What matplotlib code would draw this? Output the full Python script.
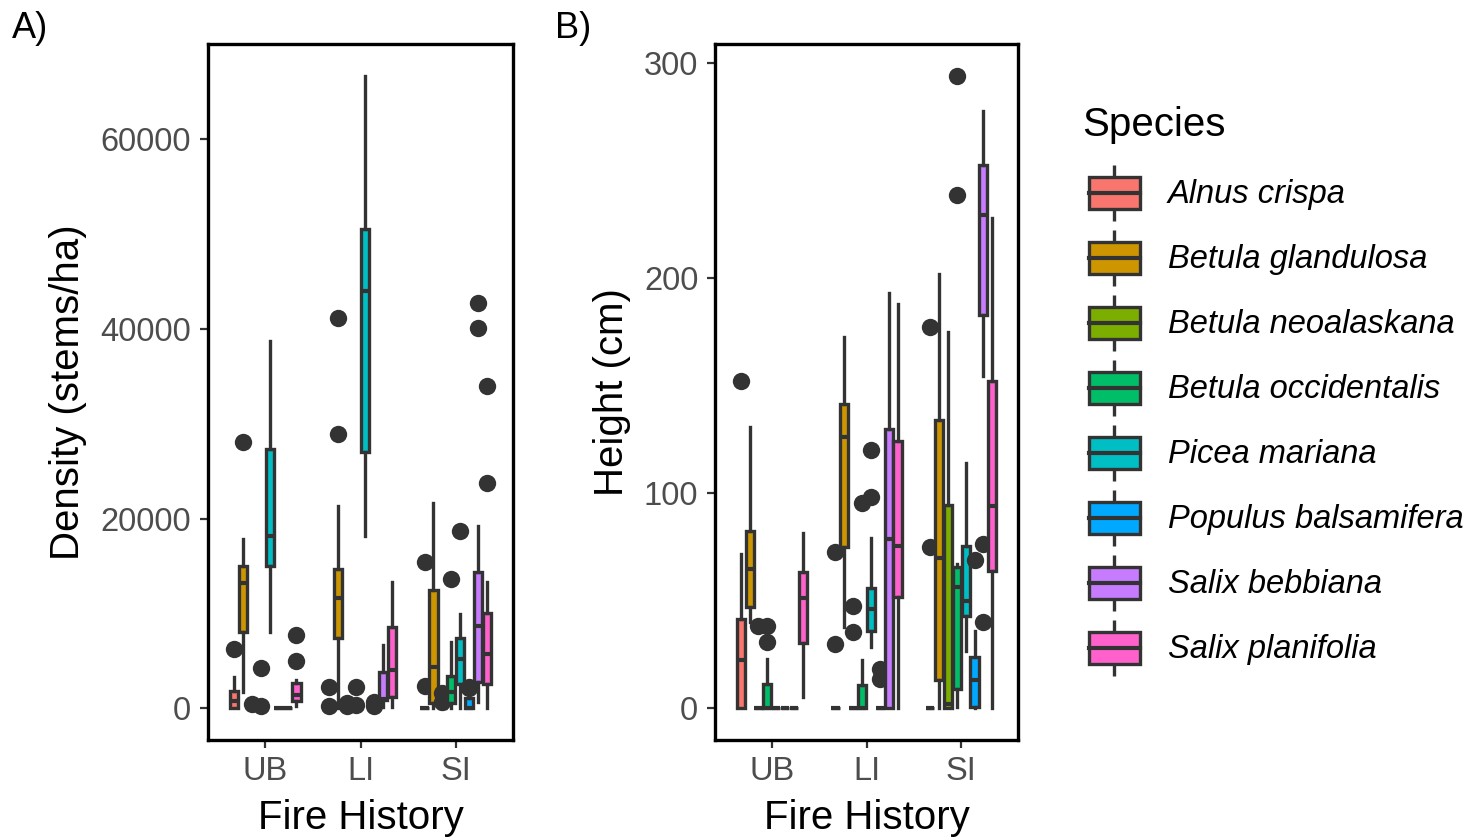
import numpy as np
import matplotlib
matplotlib.use("Agg")
import matplotlib.pyplot as plt
from matplotlib.patches import Rectangle

plt.rcParams['font.family'] = ['Liberation Sans', 'DejaVu Sans']

species = ["Alnus crispa", "Betula glandulosa", "Betula neoalaskana",
           "Betula occidentalis", "Picea mariana", "Populus balsamifera",
           "Salix bebbiana", "Salix planifolia"]
colors = ["#F8766D", "#CD9600", "#7CAE00", "#00BE67",
          "#00BFC4", "#00A9FF", "#C77CFF", "#FF61CC"]
fire_groups = ["UB", "LI", "SI"]

# box stats, rows = species, columns = UB, LI, SI
# A) density (stems/ha)
dens_whislo = [[0, 0, 0], [1720, 0, 0], [0, 0, 0], [0, 0, 0],
               [8030, 18150, 0], [0, 0, 0], [0, 140, 660], [300, 100, 0]]
dens_q1 = [[0, 0, 0], [8030, 7430, 560], [0, 0, 0], [0, 0, 560],
           [14950, 27010, 2600], [0, 0, 0], [0, 840, 2770], [770, 1190, 2600]]
dens_med = [[770, 0, 0], [13230, 11630, 4350], [0, 0, 0], [0, 0, 1720],
            [18210, 43930, 5200], [0, 0, 0], [0, 950, 8630], [1370, 4070, 5760]]
dens_q3 = [[1820, 0, 0], [15050, 14690, 12420], [0, 0, 0], [0, 0, 3370],
           [27330, 50480, 7400], [0, 0, 1050], [0, 3820, 14350], [2660, 8560, 10040]]
dens_whishi = [[3300, 0, 0], [17860, 21330, 21600], [0, 0, 0], [0, 0, 6980],
               [38660, 66660, 9970], [0, 0, 1500], [0, 6630, 19260], [2950, 13290, 13300]]
dens_fliers = [
    [[6280], [2200, 300], [15400, 2400]],
    [[28030], [41090, 28870], []],
    [[500], [300, 600], [1600, 700]],
    [[4200, 250], [2200, 400], [13650]],
    [[], [], [18650]],
    [[], [700, 300], [2100, 2300]],
    [[], [], [42740, 40100]],
    [[7680, 4950], [], [34000, 23720]],
]

# B) height (cm)
ht_whislo = [[0, 0, 0], [40.0, 38.0, 0], [0, 0, 0], [0, 0, 0.6],
             [0, 28.4, 26.9], [0, 0, 0], [0, 0, 154.4], [5.2, 0, 0]]
ht_q1 = [[0, 0, 0], [47.0, 74.8, 13.0], [0, 0, 0], [0, 0, 9.1],
         [0, 36.2, 43.1], [0, 0, 0.6], [0, 0, 183.0], [30.3, 51.6, 64.0]]
ht_med = [[22.3, 0, 0], [64.8, 126.1, 69.9], [0, 0, 2.0], [0, 0, 56.2],
          [0, 46.2, 50.1], [0, 0, 13.0], [0, 78.7, 229.6], [51.3, 75.6, 94.1]]
ht_q3 = [[41.6, 0, 0], [82.5, 141.5, 134.3], [0, 0, 94.6], [11.4, 10.7, 65.5],
         [0, 56.0, 75.6], [0, 0, 24.1], [0, 129.7, 252.5], [63.2, 124.2, 152.1]]
ht_whishi = [[72.0, 0, 0], [130.7, 172.5, 202.0], [0, 0, 174.9], [23.0, 22.6, 67.1],
             [0, 79.4, 114.2], [0, 0, 36.2], [0, 193.0, 277.7], [81.7, 187.9, 227.8]]
ht_fliers = [
    [[152.4], [72.5, 30.0], [177.1, 74.8]],
    [[], [], []],
    [[38.5], [47.7, 35.7], []],
    [[38.5, 30.7], [95.6], [294.2, 238.6]],
    [[], [119.9, 98.3], []],
    [[], [18.4, 13.8], [68.9]],
    [[], [], [76.6, 40.0]],
    [[], [], []],
]

W, H = 1477, 838
EDGE = "#333333"
LW = 2.4
MED_LW = 3.0


def draw_panel(ax, whislo, q1, med, q3, whishi, fliers, yticks, ylabel, ylab_x):
    n = len(species)
    slot = 0.75 / n
    allv = []
    for k in range(n):
        for g in range(len(fire_groups)):
            st = dict(whislo=whislo[k][g], q1=q1[k][g], med=med[k][g],
                      q3=q3[k][g], whishi=whishi[k][g], fliers=fliers[k][g])
            allv += [st['whislo'], st['whishi']] + list(st['fliers'])
            pos = g + 1 + (k - (n - 1) / 2) * slot
            ax.bxp([st], positions=[pos], widths=slot * 0.92, patch_artist=True,
                   showcaps=False, manage_ticks=False,
                   boxprops=dict(facecolor=colors[k], edgecolor=EDGE, linewidth=LW),
                   whiskerprops=dict(color=EDGE, linewidth=LW),
                   medianprops=dict(color=EDGE, linewidth=MED_LW),
                   flierprops=dict(marker='o', markerfacecolor=EDGE,
                                   markeredgecolor='none', markersize=12.5))
    lo, hi = min(allv), max(allv)
    pad = (hi - lo) * 0.05
    ax.set_ylim(lo - pad, hi + pad)
    ax.set_xlim(0.4, 3.6)
    ax.set_xticks([1, 2, 3])
    ax.set_xticklabels(fire_groups)
    ax.set_yticks(yticks)
    ax.set_yticklabels([str(v) for v in yticks])
    ax.tick_params(axis='both', colors=EDGE, labelcolor='#4D4D4D',
                   labelsize=23.5, length=5.5, width=1.6)
    ax.tick_params(axis='y', pad=6.5)
    ax.tick_params(axis='x', pad=6)
    for sp in ax.spines.values():
        sp.set_color('black')
        sp.set_linewidth(2.4)
    ax.set_xlabel("Fire History", fontsize=29, va='center')
    ax.xaxis.set_label_coords(0.5, -0.112)
    ax.set_ylabel(ylabel, fontsize=29, va='center')
    ax.yaxis.set_label_coords(ylab_x, 0.5)


fig = plt.figure(figsize=(W / 100, H / 100), dpi=100)
fig.patch.set_facecolor('white')


def px_axes(x0, x1, y0, y1):
    return fig.add_axes([x0 / W, 1 - y1 / H, (x1 - x0) / W, (y1 - y0) / H])


axA = px_axes(208, 513, 44, 740)
axB = px_axes(715, 1018, 44, 740)

draw_panel(axA, dens_whislo, dens_q1, dens_med, dens_q3, dens_whishi, dens_fliers,
           [0, 20000, 40000, 60000], "Density (stems/ha)", -0.459)
draw_panel(axB, ht_whislo, ht_q1, ht_med, ht_q3, ht_whishi, ht_fliers,
           [0, 100, 200, 300], "Height (cm)", -0.34)

fig.text(12 / W, 1 - 38 / H, "A)", fontsize=26, va='baseline', ha='left')
fig.text(555 / W, 1 - 38 / H, "B)", fontsize=26, va='baseline', ha='left')

# legend drawn in pixel space
leg = fig.add_axes([0, 0, 1, 1])
leg.set_xlim(0, W)
leg.set_ylim(H, 0)
leg.axis('off')
leg.patch.set_alpha(0)
leg.text(1082, 136, "Species", fontsize=29, va='baseline', ha='left')
for k, name in enumerate(species):
    yc = 193 + 65 * k
    leg.plot([1114, 1114], [yc - 28, yc + 28], color=EDGE, lw=LW, solid_capstyle='butt')
    leg.add_patch(Rectangle((1089, yc - 16), 51, 32, facecolor=colors[k],
                            edgecolor=EDGE, linewidth=LW, zorder=3))
    leg.plot([1089, 1140], [yc, yc], color=EDGE, lw=MED_LW, zorder=4)
    leg.text(1168, yc + 1, name, fontsize=23.5, style='italic', va='center', ha='left')

fig.savefig("out.png", dpi=100, facecolor='white')
